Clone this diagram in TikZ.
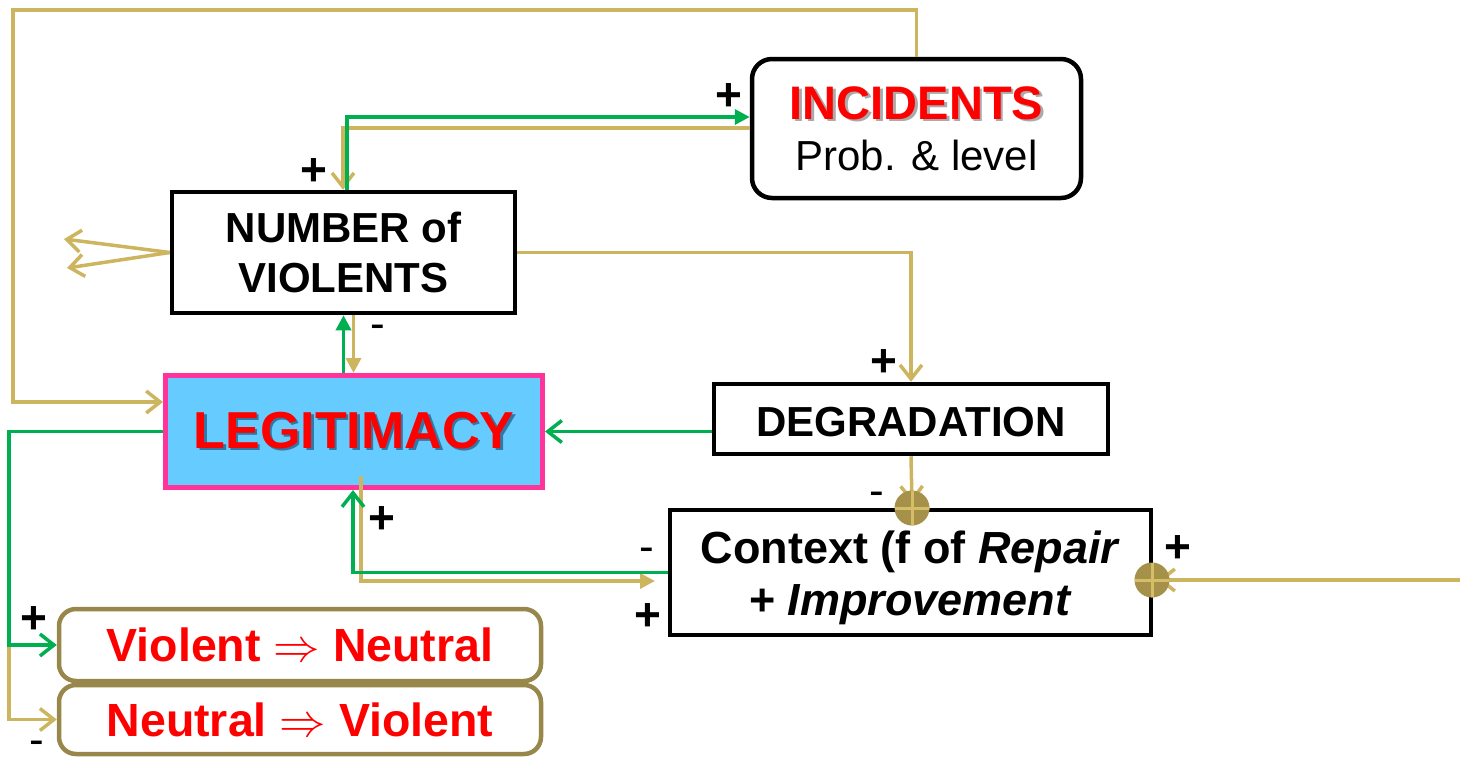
\documentclass[tikz,border=0pt]{standalone}
\usepackage{fontspec}
\setmainfont{Liberation Sans}
\usetikzlibrary{arrows.meta}
% scalable symbol font so that large math arrows keep their size
\DeclareFontShape{OMS}{cmsy}{m}{n}{<-6>cmsy5<6-7>cmsy6<7-8>cmsy7<8-9>cmsy8<9-10>cmsy9<10->cmsy10}{}

\definecolor{loopTan}{RGB}{205,181,96}
\definecolor{loopGreen}{RGB}{0,176,80}
\definecolor{legPink}{RGB}{255,51,153}
\definecolor{legBlue}{RGB}{102,204,255}
\definecolor{flowOlive}{RGB}{152,135,74}
\definecolor{sumFill}{RGB}{166,145,74}
\definecolor{sumCross}{RGB}{214,190,102}
\definecolor{hotRed}{RGB}{255,0,0}
\definecolor{incShadow}{RGB}{170,170,170}
\definecolor{legShadow}{RGB}{50,120,165}

\newcommand\fsz[2]{\fontsize{#1}{#2}\selectfont}
% text with a small drop shadow behind it
\newcommand\dropshadowed[2]{\rlap{\kern2.5pt\raisebox{-2.5pt}{\textcolor{#1}{#2}}}#2}

\begin{document}
\begin{tikzpicture}[x=1pt,y=-1pt,
  box/.style={draw=black,line width=4.5pt,fill=white,inner sep=0pt,align=center},
  tanline/.style={draw=loopTan,line width=3.5pt},
  greenline/.style={draw=loopGreen,line width=3.5pt},
  barb/.style={-{Straight Barb[length=14pt,width=22pt]}},
  tri/.style={-{Triangle[length=15pt,width=15pt]}},
  plus/.style={inner sep=0pt,font=\bfseries\fsz{46}{46}},
  minus/.style={inner sep=0pt,font=\fsz{44}{44}},
  sumjunction/.style={circle,fill=sumFill,minimum size=35pt,inner sep=0pt,
    path picture={\draw[sumCross,line width=3pt]
      (path picture bounding box.west) -- (path picture bounding box.east)
      (path picture bounding box.north) -- (path picture bounding box.south);}},
]
\path[use as bounding box] (0,0) rectangle (1460,758);

% ---- blocks ----
\node[box,rounded corners=20pt,minimum width=329pt,minimum height=139pt,font=\fsz{42}{51}] (INC) at (916.5,128.5)
  {{\bfseries\fsz{47}{51}\color{hotRed}\dropshadowed{incShadow}{INCIDENTS}}\\Prob. \& level};
\node[box,minimum width=343pt,minimum height=121pt,font=\bfseries\fsz{42}{50}] (NUM) at (343.5,252.5)
  {NUMBER of\\VIOLENTS};
\node[box,draw=legPink,fill=legBlue,line width=5pt,minimum width=377pt,minimum height=112pt,
  font=\bfseries\fsz{52}{60},text=hotRed] (LEG) at (354,431.5) {\dropshadowed{legShadow}{LEGITIMACY}};
\node[box,minimum width=394pt,minimum height=70pt,font=\bfseries\fsz{42}{50}] (DEG) at (911,419)
  {\rule{0pt}{36pt}DEGRADATION};
\node[box,minimum width=481pt,minimum height=125pt,font=\bfseries\fsz{45}{52}] (CTX) at (910.5,572.5)
  {\rule{0pt}{43pt}Context (f of \textit{Repair}\\+ \textit{Improvement}};
\node[box,draw=flowOlive,rounded corners=17pt,minimum width=482pt,minimum height=72pt,
  font=\bfseries\fsz{46.5}{50},text=hotRed] (VN) at (300,645) {Violent $\Rightarrow$ Neutral};
\node[box,draw=flowOlive,rounded corners=17pt,minimum width=482pt,minimum height=69pt,
  font=\bfseries\fsz{46.5}{50},text=hotRed] (NV) at (300,719.5) {Neutral $\Rightarrow$ Violent};

% ---- routing points ----
\coordinate (TL) at (13,10);
\coordinate (BL) at (13,402);
\coordinate (tKnee) at (343,128);
\coordinate (gKnee) at (347,117);
\coordinate (spreadA) at (64,239);
\coordinate (spreadB) at (67,268);
\coordinate (nsR) at ([xshift=10pt]NUM.south);
\coordinate (J1) at (912,508);
\coordinate (J2) at (1152,580);
\coordinate (feed) at (1460,580);
\coordinate (lsR) at (361,476);
\coordinate (ctxIn) at (655,581);
\coordinate (railL) at (9,645);

% ---- tan links ----
\draw[tanline,barb] (INC.north) |- (TL) -- (BL) -- (LEG.west |- BL);
\draw[tanline,barb] (INC.west |- tKnee) -| (NUM.north -| tKnee);
\draw[tanline,barb] (NUM.west) -- (spreadA);
\draw[tanline,barb] (NUM.west) -- (spreadB);
\draw[tanline,tri] (nsR) -- (nsR |- LEG.north);
\draw[tanline,barb] (NUM.east) -| (DEG.north);
\draw[tanline,barb] (DEG.south) -- ([yshift=5pt]J1);
\draw[tanline,barb] (feed) -- ([xshift=6pt]J2);
\draw[tanline,tri] (lsR) |- (ctxIn);
\draw[tanline,barb] (railL) |- (NV.west);

% ---- green links ----
\draw[greenline,tri] (NUM.north -| gKnee) |- (INC.west |- gKnee);
\draw[greenline,tri] (NUM.south |- LEG.north) -- (NUM.south);
\draw[greenline,barb] (DEG.west |- LEG.east) -- (LEG.east);
\draw[greenline,barb] (CTX.west) -| ([xshift=-1pt]LEG.south);
\draw[greenline,barb] (LEG.west) -| (railL) -- (VN.west);

% ---- summing junctions ----
\node[sumjunction] (S1) at (J1) {};
\node[sumjunction] (S2) at (J2) {};

% ---- polarity signs ----
\node[plus] (p1) at (729,97) {+};
\node[plus] (p2) at (314,172) {+};
\node[minus] (m1) at (378,332) {-};
\node[plus] (p3) at (884,363) {+};
\node[minus] (m2) at (877,499) {-};
\node[plus] (p4) at (382,520) {+};
\node[minus] (m3) at (647,555) {-};
\node[plus] (p5) at (648,617) {+};
\node[plus] (p6) at (1178,549) {+};
\node[plus] (p7) at (34,620) {+};
\node[minus] (m4) at (37,748) {-};
\end{tikzpicture}
\end{document}
